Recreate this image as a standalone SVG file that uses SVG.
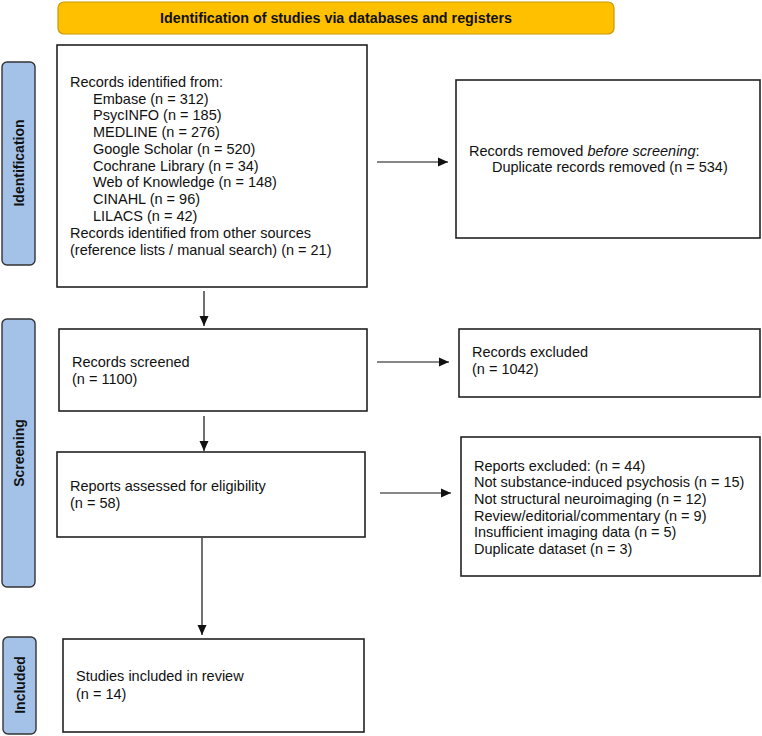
<svg xmlns="http://www.w3.org/2000/svg" width="762" height="736" viewBox="0 0 762 736">
<style>
.box{fill:#fff;stroke:#222;stroke-width:1.6}
.side{fill:#a4c2e8;stroke:#333;stroke-width:1.4}
.t{font-family:"Liberation Sans",Arial,sans-serif;font-size:14.5px;fill:#111}
.b{font-family:"Liberation Sans",Arial,sans-serif;font-size:14px;font-weight:bold;fill:#111}
.title{font-size:14.3px}
.c{stroke:#111;stroke-width:1.2;fill:none}
</style>
<defs>
<marker id="ah" viewBox="0 0 10 10" refX="10" refY="5" markerWidth="10" markerHeight="10" markerUnits="userSpaceOnUse" orient="auto">
<path d="M0,0.5 L10,5 L0,9.5 z" fill="#111"/>
</marker>
</defs>
<g id="banner">
<rect x="58" y="2" width="556" height="32" rx="6" fill="#ffc000" stroke="#c99a00" stroke-width="1.2"/>
<text class="b title" x="336" y="23" text-anchor="middle">Identification of studies via databases and registers</text>
</g>
<g id="label-identification">
<rect class="side" x="2" y="62" width="33" height="203" rx="5"/>
<text class="b" transform="translate(24,163) rotate(-90)" text-anchor="middle">Identification</text>
</g>
<g id="label-screening">
<rect class="side" x="2" y="319" width="33" height="268" rx="5"/>
<text class="b" transform="translate(24,453) rotate(-90)" text-anchor="middle">Screening</text>
</g>
<g id="label-included">
<rect class="side" x="3" y="637" width="33" height="97" rx="5"/>
<text class="b" transform="translate(25,685) rotate(-90)" text-anchor="middle">Included</text>
</g>
<g id="records-identified">
<rect class="box" x="57" y="45" width="310" height="242"/>
<text class="t" x="70" y="87">Records identified from:</text>
<text class="t" x="93" y="104">Embase (n = 312)</text>
<text class="t" x="93" y="120">PsycINFO (n = 185)</text>
<text class="t" x="93" y="137">MEDLINE (n = 276)</text>
<text class="t" x="93" y="154">Google Scholar (n = 520)</text>
<text class="t" x="93" y="171">Cochrane Library (n = 34)</text>
<text class="t" x="93" y="187">Web of Knowledge (n = 148)</text>
<text class="t" x="93" y="204">CINAHL (n = 96)</text>
<text class="t" x="93" y="221">LILACS (n = 42)</text>
<text class="t" x="70" y="238">Records identified from other sources</text>
<text class="t" x="70" y="255">(reference lists / manual search) (n = 21)</text>
</g>
<g id="records-removed">
<rect class="box" x="456" y="80" width="304" height="158"/>
<text class="t" x="469" y="156">Records removed <tspan font-style="italic">before screening</tspan>:</text>
<text class="t" x="492" y="172">Duplicate records removed (n = 534)</text>
</g>
<g id="records-screened">
<rect class="box" x="59" y="329" width="308" height="82"/>
<text class="t" x="72" y="367">Records screened</text>
<text class="t" x="72" y="384">(n = 1100)</text>
</g>
<g id="records-excluded">
<rect class="box" x="459" y="329" width="301" height="68"/>
<text class="t" x="472" y="357">Records excluded</text>
<text class="t" x="472" y="374">(n = 1042)</text>
</g>
<g id="reports-assessed">
<rect class="box" x="57" y="452" width="308" height="85"/>
<text class="t" x="70" y="491">Reports assessed for eligibility</text>
<text class="t" x="70" y="508">(n = 58)</text>
</g>
<g id="reports-excluded">
<rect class="box" x="461" y="437" width="299" height="139"/>
<text class="t" x="474" y="471">Reports excluded: (n = 44)</text>
<text class="t" x="474" y="487">Not substance-induced psychosis (n = 15)</text>
<text class="t" x="474" y="504">Not structural neuroimaging (n = 12)</text>
<text class="t" x="474" y="521">Review/editorial/commentary (n = 9)</text>
<text class="t" x="474" y="537">Insufficient imaging data (n = 5)</text>
<text class="t" x="474" y="554">Duplicate dataset (n = 3)</text>
</g>
<g id="studies-included">
<rect class="box" x="63" y="639" width="301" height="93"/>
<text class="t" x="76" y="681">Studies included in review</text>
<text class="t" x="76" y="699">(n = 14)</text>
</g>
<g id="connectors">
<line class="c" x1="377" y1="162" x2="448" y2="162" marker-end="url(#ah)"/>
<line class="c" x1="204" y1="291" x2="204" y2="326" marker-end="url(#ah)"/>
<line class="c" x1="377" y1="362" x2="449" y2="362" marker-end="url(#ah)"/>
<line class="c" x1="204" y1="416" x2="204" y2="451" marker-end="url(#ah)"/>
<line class="c" x1="380" y1="493" x2="451" y2="493" marker-end="url(#ah)"/>
<line class="c" x1="202" y1="538" x2="202" y2="635" marker-end="url(#ah)"/>
</g>
</svg>
